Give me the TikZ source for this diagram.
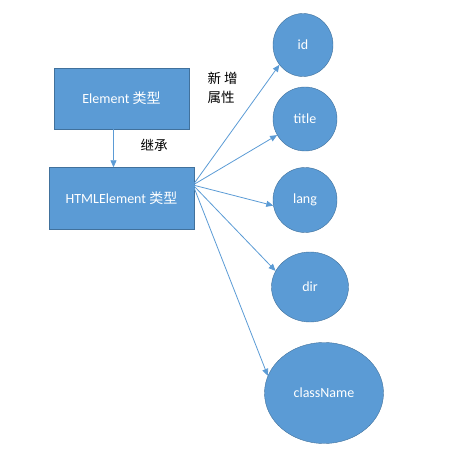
\documentclass[tikz,border=0pt]{standalone}
\usepackage{fontspec}
\setmainfont{Carlito}
\newfontfamily\cjk{Noto Sans CJK SC}
\usetikzlibrary{shapes.geometric, arrows.meta, positioning, calc}
\definecolor{wordblue}{HTML}{5B9BD5}
\definecolor{wordedge}{HTML}{41719C}

\begin{document}
\begin{tikzpicture}[x=1pt, y=-1pt,
    box/.style={draw=wordedge, fill=wordblue, minimum width=135pt, minimum height=61pt, text=white, font=\fontsize{14}{17}\selectfont},
    attr/.style={ellipse, draw=wordedge, fill=wordblue, inner sep=0pt, text=white, font=\fontsize{14}{17}\selectfont},
    link/.style={draw=wordblue, line width=0.8pt, -{Triangle[length=7pt, width=6pt]}},
    note/.style={font=\cjk\fontsize{13.5}{19}\selectfont, align=left}
]
    \useasboundingbox (0,0) rectangle (468,454);
    % boxes
    \node[box] (elem) at (121.5,98.5) {\raisebox{-4pt}{Element {\cjk 类型}}};
    \node[box, minimum width=145pt, minimum height=62pt] (html) at (121.5,198.5) {\raisebox{-4pt}{HTMLElement {\cjk 类型}}};
    % attributes
    \node[attr, minimum width=60pt, minimum height=63pt] (id) at (303,45) {id};
    \node[attr, minimum width=64pt, minimum height=64pt] (title) at (305,119) {title};
    \node[attr, minimum width=64pt, minimum height=65pt] (lang) at (305,200) {lang};
    \node[attr, minimum width=77pt, minimum height=70pt] (dir) at (310,287) {dir};
    \node[attr, minimum width=119pt, minimum height=101pt] (cls) at (324,393) {className};
    % labels
    \node[note, anchor=west] (added) at (204,88) {新 增\\属性};
    \node[note] (inherit) at (154,145) {继承};
    % connectors
    \draw[link] ([xshift=-8pt]elem.south) -- ([xshift=-8pt]elem.south |- html.north);
    \coordinate (src) at (193,185);
    \draw[link] (src) -- (id.220);
    \draw[link] (src) -- (title.210);
    \draw[link] (src) -- (lang.190);
    \draw[link] (src) -- (dir.155);
    \draw[link] (src) -- (cls.163);
\end{tikzpicture}
\end{document}
